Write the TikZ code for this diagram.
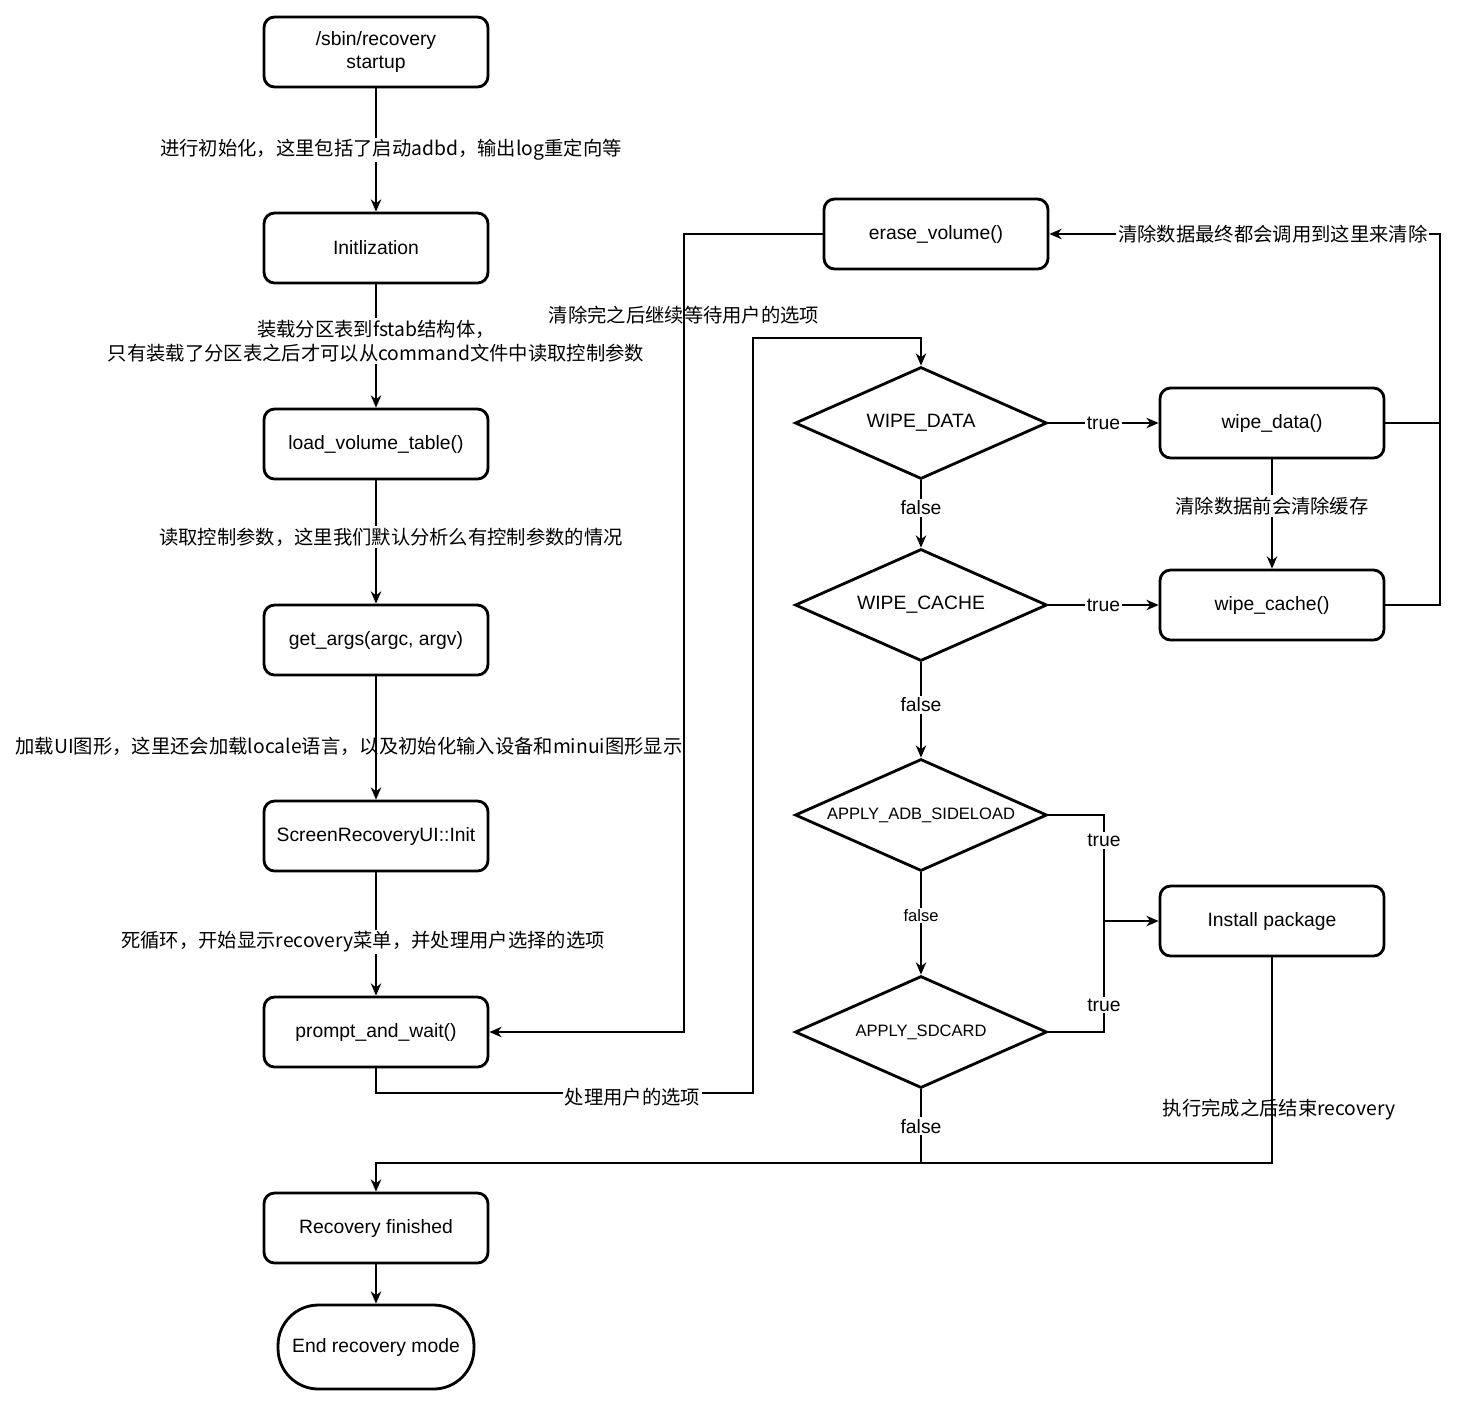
\documentclass[tikz,border=0pt]{standalone}
\usepackage{fontspec}
\setmainfont{Liberation Sans}
\newfontfamily\cjk{Noto Sans CJK SC}
\usetikzlibrary{shapes.geometric,arrows.meta}
\tikzset{
	box/.style={draw, line width=1.6pt, rounded corners=6pt, minimum width=4.48cm, minimum height=1.4cm, align=center, font=\fontsize{11}{13}\selectfont},
	decision/.style={draw, diamond, line width=1.6pt, aspect=2.25, minimum width=5.04cm, minimum height=2.24cm, inner sep=0pt, font=\fontsize{11}{13}\selectfont},
	terminal/.style={draw, line width=1.6pt, rounded corners=23pt, minimum width=3.92cm, minimum height=1.68cm, font=\fontsize{11}{13}\selectfont},
	link/.style={draw, line width=0.8pt},
	arr/.style={link, -{Stealth[length=7pt,width=6pt]}},
	lbl/.style={fill=white, inner sep=1pt, font=\fontsize{11}{13}\selectfont},
	small/.style={font=\fontsize{9.4}{11}\selectfont},
	cn/.style={lbl, align=center, font=\cjk\fontsize{11}{14}\selectfont},
}
\begin{document}
\begin{tikzpicture}[x=0.02cm, y=-0.02cm]
	\useasboundingbox (0,0) rectangle (1466,1403);

	% main column
	\node[box] (startup) at (376,52) {/sbin/recovery\\startup};
	\node[box] (init) at (376,248) {Initlization};
	\node[box] (loadvol) at (376,444) {load\_volume\_table()};
	\node[box] (getargs) at (376,640) {get\_args(argc, argv)};
	\node[box] (uiinit) at (376,836) {ScreenRecoveryUI::Init};
	\node[box] (prompt) at (376,1032) {prompt\_and\_wait()};
	\node[box] (finished) at (376,1228) {Recovery finished};
	\node[terminal] (endmode) at (376,1347) {End recovery mode};

	% decisions
	\node[box] (erase) at (936,234) {erase\_volume()};
	\node[decision] (wdata) at (921,423) {WIPE\_DATA};
	\node[decision] (wcache) at (921,605) {WIPE\_CACHE};
	\node[decision, small] (adb) at (921,815) {APPLY\_ADB\_SIDELOAD};
	\node[decision, small] (sdcard) at (921,1032) {APPLY\_SDCARD};

	% actions
	\node[box] (wipedata) at (1272,423) {wipe\_data()};
	\node[box] (wipecache) at (1272,605) {wipe\_cache()};
	\node[box] (install) at (1272,921) {Install package};

	\coordinate (eraseTurn) at (684,234);
	\coordinate (loopA) at (753,1093);
	\coordinate (loopB) at (753,338);
	\coordinate (rightRail) at (1440,423);
	\coordinate (instJoin) at (1104,921);
	\coordinate (mergeJoin) at (921,1163);

	\draw[arr] (startup) -- node[cn, xshift=0.3cm] {进行初始化，这里包括了启动adbd，输出log重定向等} (init);
	\draw[arr] (init) -- node[cn, yshift=0.1cm] {装载分区表到fstab结构体，\\只有装载了分区表之后才可以从command文件中读取控制参数} (loadvol);
	\draw[arr] (loadvol) -- node[cn, xshift=0.3cm, yshift=0.1cm] {读取控制参数，这里我们默认分析么有控制参数的情况} (getargs);
	\draw[arr] (getargs) -- node[cn, xshift=-0.54cm, yshift=-0.16cm, fill=none] {加载UI图形，这里还会加载locale语言，以及初始化输入设备和minui图形显示} (uiinit);
	\draw[arr] (uiinit) -- node[cn, xshift=-0.26cm, yshift=-0.16cm] {死循环，开始显示recovery菜单，并处理用户选择的选项} (prompt);
	\draw[arr] (finished) -- (endmode);

	\draw[arr] (prompt.south) |- node[cn, pos=0.84, yshift=-0.08cm] {处理用户的选项} (loopA) -- (loopB) -| (wdata.north);
	\draw[arr] (erase.west) -- (eraseTurn) |- node[cn, pos=0.051, fill=none] {清除完之后继续等待用户的选项} (prompt.east);

	\draw[arr] (wdata) -- node[lbl] {true} (wipedata);
	\draw[arr] (wdata) -- node[lbl, yshift=0.12cm] {false} (wcache);
	\draw[arr] (wcache) -- node[lbl] {true} (wipecache);
	\draw[arr] (wipedata) -- node[cn, yshift=0.16cm] {清除数据前会清除缓存} (wipecache);
	\draw[arr] (wipedata.east) -- (rightRail) |- node[cn, pos=0.714] {清除数据最终都会调用到这里来清除} (erase.east);
	\draw[link] (wipecache.east) -| (rightRail);

	\draw[arr] (wcache) -- node[lbl, yshift=0.1cm] {false} (adb);
	\draw[arr] (adb.east) -| node[lbl, pos=0.62] {true} (instJoin) -- (install.west);
	\draw[link] (sdcard.east) -| node[lbl, pos=0.62] {true} (instJoin);
	\draw[arr] (adb) -- node[lbl, small, yshift=0.16cm] {false} (sdcard);

	\draw[arr] (sdcard.south) -- node[lbl] {false} (mergeJoin) -| (finished.north);
	\draw[link] (install.south) |- node[cn, pos=0.37, xshift=0.14cm, fill=none] {执行完成之后结束recovery} (mergeJoin);
\end{tikzpicture}
\end{document}
